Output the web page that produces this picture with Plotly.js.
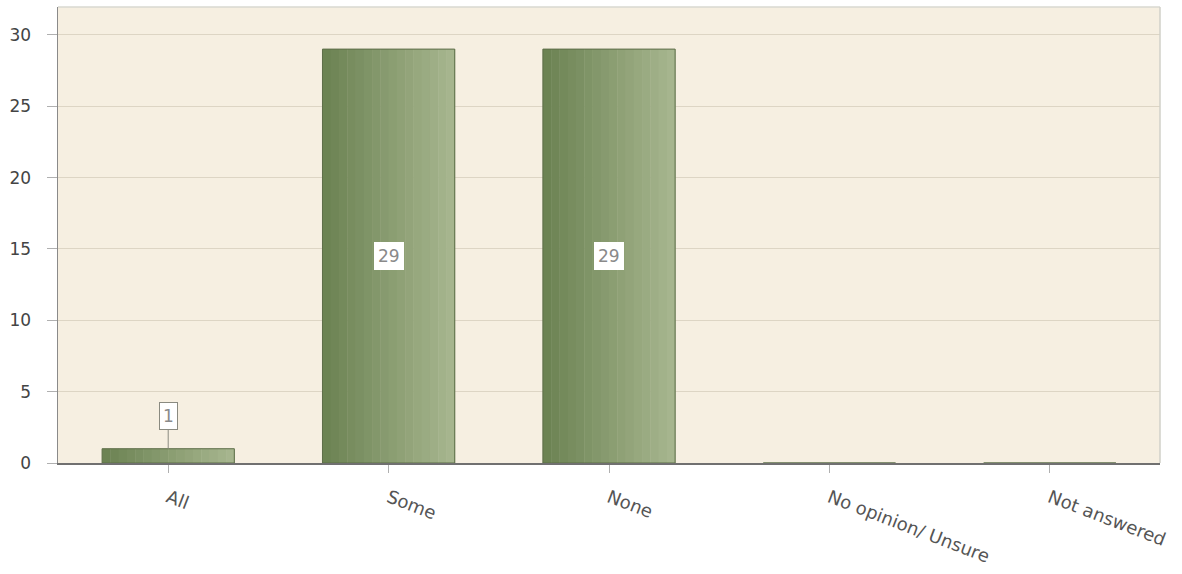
<!DOCTYPE html>
<html><head><meta charset="utf-8">
<script src="https://cdn.plot.ly/plotly-3.0.1.min.js"></script>
<style>html,body{margin:0;padding:0;background:#fff}</style>
</head><body>
<div id="chart" style="width:1182px;height:574px"></div>
<script>
const categories = ["All", "Some", "None", "No opinion/ Unsure", "Not answered"];
const counts = [1, 29, 29, 0, 0];
const yTicks = [0, 5, 10, 15, 20, 25, 30];

// gradient styling (dark left -> light right) built as thin slices
const slices = 16, barWidth = 0.6;
const c0 = [108, 131, 83], c1 = [166, 181, 142];
const traces = [];
for (let i = 0; i < slices; i++) {
  const t = i / (slices - 1);
  const col = 'rgb(' + c0.map((v, k) => Math.round(v + (c1[k] - v) * t)).join(',') + ')';
  traces.push({
    type: 'bar', x: categories, y: counts,
    width: barWidth / slices + 0.002,
    offset: -barWidth / 2 + i * barWidth / slices,
    marker: {color: col, line: {width: 0}},
    hoverinfo: 'skip', showlegend: false
  });
}
traces.push({
  type: 'bar', x: categories, y: counts, width: barWidth,
  marker: {color: 'rgba(0,0,0,0)', line: {color: '#5d6e48', width: 1}},
  showlegend: false, hoverinfo: 'x+y'
});

const font = 'Verdana, DejaVu Sans, sans-serif';
const annotations = [];
categories.forEach((c, i) => {
  if (counts[i] <= 0) return;
  const big = counts[i] > 3;
  annotations.push({
    x: c, y: big ? counts[i] / 2 : counts[i], xref: 'x', yref: 'y',
    text: String(counts[i]),
    showarrow: !big, arrowhead: 0, arrowcolor: '#8a8a80', arrowwidth: 1,
    ax: 0, ay: -33,
    bgcolor: '#ffffff', bordercolor: big ? '#ffffff' : '#8a8a80', borderwidth: 1, borderpad: 3,
    font: {family: font, size: 17, color: '#8a8a8a'}
  });
});

const layout = {
  width: 1182, height: 574,
  margin: {l: 58, r: 22, t: 7, b: 111},
  paper_bgcolor: '#ffffff', plot_bgcolor: '#f6efe1',
  barmode: 'overlay',
  xaxis: {
    type: 'category', range: [-0.5, 4.5],
    tickangle: 21, ticks: 'outside', ticklen: 8, tickcolor: '#b0b0b0',
    ticklabelstandoff: 8,
    showline: true, linecolor: '#707070', linewidth: 1.5, mirror: false,
    showgrid: false, zeroline: false,
    tickfont: {family: font, size: 18, color: '#555555'}
  },
  yaxis: {
    range: [0, 31.95], tickvals: yTicks, ticks: 'outside', ticklen: 10, tickcolor: '#b0b0b0',
    ticklabelstandoff: 12,
    showline: true, linecolor: '#8a8a8a', linewidth: 1.5,
    gridcolor: '#ddd5c4', gridwidth: 1, zeroline: false,
    tickfont: {family: font, size: 17, color: '#444444'}
  },
  annotations: annotations,
  shapes: [
    {type: 'line', xref: 'paper', yref: 'paper', x0: 0, x1: 1, y0: 1, y1: 1, line: {color: '#d8d8d0', width: 1.5}},
    {type: 'line', xref: 'paper', yref: 'paper', x0: 1, x1: 1, y0: 0, y1: 1, line: {color: '#d0d0c8', width: 1.5}}
  ]
};

Plotly.newPlot('chart', traces, layout, {displayModeBar: false, staticPlot: true});
</script>
</body></html>
